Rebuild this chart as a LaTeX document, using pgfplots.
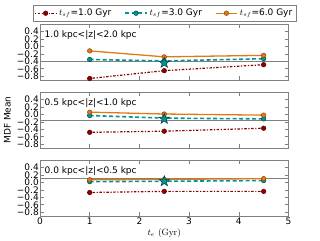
\documentclass[border=0pt]{standalone}
\usepackage{pgfplots}
\pgfplotsset{compat=1.18}
\usepackage{fontspec}
\newfontfamily\dejavu{DejaVu Sans}
\definecolor{cred}{RGB}{139,0,0}
\definecolor{cteal}{RGB}{0,150,150}
\definecolor{corange}{RGB}{230,120,20}
\definecolor{cframe}{RGB}{128,128,128}
\pgfdeclareplotmark{fstar}{%
  \pgfpathmoveto{\pgfpointpolar{90}{\pgfplotmarksize}}%
  \pgfpathlineto{\pgfpointpolar{126}{0.4\pgfplotmarksize}}%
  \pgfpathlineto{\pgfpointpolar{162}{\pgfplotmarksize}}%
  \pgfpathlineto{\pgfpointpolar{198}{0.4\pgfplotmarksize}}%
  \pgfpathlineto{\pgfpointpolar{234}{\pgfplotmarksize}}%
  \pgfpathlineto{\pgfpointpolar{270}{0.4\pgfplotmarksize}}%
  \pgfpathlineto{\pgfpointpolar{306}{\pgfplotmarksize}}%
  \pgfpathlineto{\pgfpointpolar{342}{0.4\pgfplotmarksize}}%
  \pgfpathlineto{\pgfpointpolar{18}{\pgfplotmarksize}}%
  \pgfpathlineto{\pgfpointpolar{54}{0.4\pgfplotmarksize}}%
  \pgfpathclose\pgfusepathqfillstroke}
\pgfplotsset{
  panel/.style={
    scale only axis, width=248.5pt, height=56pt,
    anchor=south west,
    xmin=0, xmax=5, ymin=-0.9, ymax=0.6,
    xtick={0,1,2,3,4,5},
    ytick={-0.8,-0.6,-0.4,-0.2,0,0.2,0.4},
    yticklabels={−0.8,−0.6,−0.4,−0.2,0.0,0.2,0.4},
    axis line style={cframe, line width=0.8pt},
    tick style={cframe, line width=0.6pt},
    major tick length=4pt,
    tick label style={font=\dejavu\fontsize{9}{9}\selectfont},
    yticklabel style={inner sep=1pt},
    xticklabel style={inner sep=2pt},
    clip=false,
  },
  redser/.style={cred, line width=1.2pt, dash pattern=on 1.2pt off 1.6pt on 2.5pt off 1.6pt,
    mark=*, mark size=2.3pt, mark options={solid, fill=cred, draw=cred!70!black, line width=0.5pt}},
  tealser/.style={cteal, line width=1.6pt, dash pattern=on 4pt off 2.5pt,
    mark=*, mark size=2.3pt, mark options={solid, fill=cteal, draw=cteal!50!black, line width=0.5pt}},
  orangeser/.style={corange, line width=1.3pt, solid,
    mark=*, mark size=2.3pt, mark options={solid, fill=corange, draw=corange!60!black, line width=0.5pt}},
  starser/.style={only marks, mark=fstar, mark size=5.5pt, mark options={fill=cteal, draw=cteal!40!black, line width=0.5pt}},
  obsline/.style={cframe, line width=1.2pt, no marks},
}
\newcommand{\lbl}[1]{\node[anchor=west, font=\dejavu\fontsize{9}{10}\selectfont, inner sep=0pt] at (rel axis cs:0.018,0.81) {#1};}
\begin{document}
\begin{tikzpicture}
\path[use as bounding box] (0,0) rectangle (320pt,240pt);
% top panel
\begin{axis}[panel, at={(40pt,160pt)}, xticklabels={},
  legend style={at={(rel axis cs:0.5,1)}, anchor=south, yshift=3pt, draw=cframe,
    font=\dejavu\fontsize{9}{10}\selectfont, legend columns=3, inner sep=1.5pt,
    /tikz/every even column/.append style={column sep=11pt}},
  legend image code/.code={\draw[mark repeat=2,mark phase=2] plot coordinates {(0cm,0cm) (0.38cm,0cm) (0.76cm,0cm)};}]
\addplot[obsline, forget plot] coordinates {(0,-0.41) (5,-0.41)};
\addplot[redser] coordinates {(1,-0.86) (2.5,-0.65) (4.5,-0.49)};
\addlegendentry{$t_{sf}$=1.0 Gyr}
\addplot[tealser] coordinates {(1,-0.35) (2.5,-0.39) (4.5,-0.33)};
\addlegendentry{$t_{sf}$=3.0 Gyr}
\addplot[orangeser] coordinates {(1,-0.12) (2.5,-0.28) (4.5,-0.24)};
\addlegendentry{$t_{sf}$=6.0 Gyr}
\addplot[starser, forget plot] coordinates {(2.5,-0.44)};
\lbl{1.0 kpc<|z|<2.0 kpc}
\end{axis}
% middle panel
\begin{axis}[panel, at={(40pt,92pt)}, xticklabels={},
  ylabel={MDF Mean},
  every axis y label/.style={at={(rel axis cs:0,0.5)}, xshift=-32.5pt, rotate=90, anchor=center, font=\dejavu\fontsize{9}{10}\selectfont}]
\addplot[obsline] coordinates {(0,-0.17) (5,-0.17)};
\addplot[redser] coordinates {(1,-0.48) (2.5,-0.45) (4.5,-0.37)};
\addplot[tealser] coordinates {(1,-0.03) (2.5,-0.10) (4.5,-0.12)};
\addplot[orangeser] coordinates {(1,0.06) (2.5,0.01) (4.5,-0.02)};
\addplot[starser] coordinates {(2.5,-0.12)};
\lbl{0.5 kpc<|z|<1.0 kpc}
\end{axis}
% bottom panel
\begin{axis}[panel, at={(40pt,24pt)},
  xticklabels={0,1,2,3,4,5},
  xlabel={$t_e$ (Gyr)},
  every axis x label/.style={at={(rel axis cs:0.5,0)}, yshift=-17pt, anchor=center, font=\rmfamily\fontsize{9}{10}\selectfont}]
\addplot[obsline] coordinates {(0,0.11) (5,0.11)};
\addplot[redser] coordinates {(1,-0.27) (2.5,-0.24) (4.5,-0.24)};
\addplot[tealser] coordinates {(1,0.02) (2.5,0.03) (4.5,0.05)};
\addplot[orangeser] coordinates {(1,0.07) (2.5,0.08) (4.5,0.10)};
\addplot[starser] coordinates {(2.5,0.03)};
\lbl{0.0 kpc<|z|<0.5 kpc}
\end{axis}
\end{tikzpicture}
\end{document}
